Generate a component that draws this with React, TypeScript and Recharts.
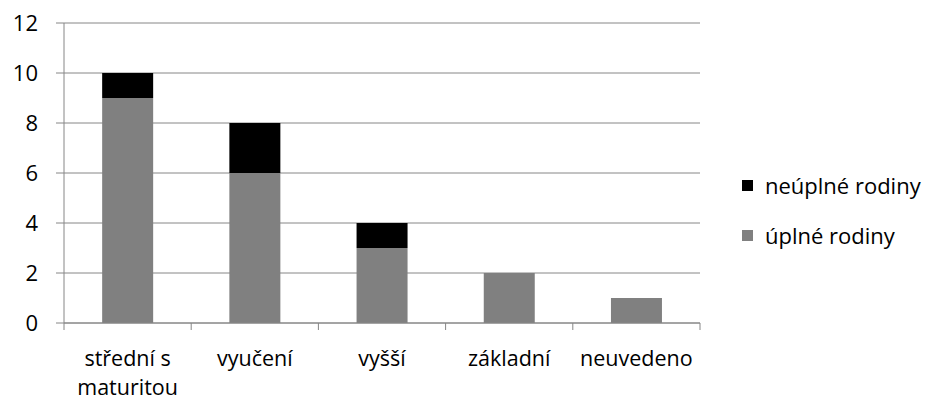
import { BarChart, Bar, XAxis, YAxis, CartesianGrid, Legend } from 'recharts';

const categories = ['střední s\nmaturitou', 'vyučení', 'vyšší', 'základní', 'neuvedeno'];
const uplne = [9, 6, 3, 2, 1];
const neuplne = [1, 2, 1, 0, 0];
const yTicks = [0, 2, 4, 6, 8, 10, 12];

const data = categories.map((name, i) => ({ name, uplne: uplne[i], neuplne: neuplne[i] }));

const FONT = '"Open Sans", Lato, sans-serif';
const AXIS = '#868686';

function CategoryTick(props: any) {
  const { x, y, payload, index } = props;
  const half = payload.offset ?? 63.5;
  const lines = String(payload.value).split('\n');
  return (
    <g>
      <line x1={x - half} x2={x - half} y1={y} y2={y + 7} stroke={AXIS} />
      {index === categories.length - 1 && (
        <line x1={x + half} x2={x + half} y1={y} y2={y + 7} stroke={AXIS} />
      )}
      {lines.map((l, i) => (
        <text
          key={i}
          x={x}
          y={y + 43 + i * 29}
          textAnchor="middle"
          fontSize={21.5}
          fontFamily={FONT}
          fill="#000"
        >
          {l}
        </text>
      ))}
    </g>
  );
}

function LegendBox() {
  const items = [
    { label: 'neúplné rodiny', color: '#000000' },
    { label: 'úplné rodiny', color: '#808080' },
  ];
  return (
    <div style={{ fontFamily: FONT, fontSize: 22, color: '#000' }}>
      {items.map((it) => (
        <div key={it.label} style={{ display: 'flex', alignItems: 'center', height: 50 }}>
          <span style={{ width: 11, height: 11, background: it.color, marginRight: 12, display: 'inline-block' }} />
          <span>{it.label}</span>
        </div>
      ))}
    </div>
  );
}

export default function App() {
  return (
    <div style={{ position: 'absolute', left: 0, top: 0, width: 932, height: 400, background: '#fff', overflow: 'hidden' }}>
      <BarChart
        width={932}
        height={400}
        data={data}
        margin={{ top: 23, right: 232, left: 0, bottom: 0 }}
        barCategoryGap="30%"
      >
        <CartesianGrid vertical={false} stroke={AXIS} />
        <XAxis
          dataKey="name"
          height={77}
          stroke={AXIS}
          tickLine={false}
          tickSize={0}
          tickMargin={0}
          interval={0}
          tick={<CategoryTick />}
        />
        <YAxis
          width={64}
          domain={[0, 12]}
          ticks={yTicks}
          stroke={AXIS}
          tickSize={8}
          tickMargin={18}
          tick={{ fill: '#000', fontSize: 22, fontFamily: FONT }}
        />
        <Legend
          layout="horizontal"
          verticalAlign="middle"
          align="center"
          content={<LegendBox />}
          wrapperStyle={{ position: 'absolute', left: 742, top: 160, width: 190 }}
        />
        <Bar dataKey="uplne" stackId="a" fill="#808080" isAnimationActive={false} />
        <Bar dataKey="neuplne" stackId="a" fill="#000000" isAnimationActive={false} />
      </BarChart>
    </div>
  );
}
